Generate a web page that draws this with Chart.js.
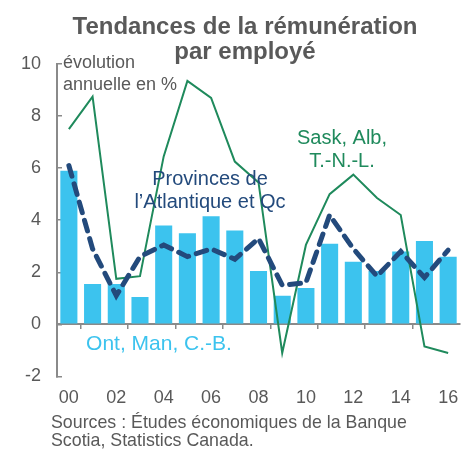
<!DOCTYPE html>
<html>
<head>
<meta charset="utf-8">
<script src="https://cdn.jsdelivr.net/npm/chart.js@4"></script>
<style>
  html, body { margin: 0; padding: 0; background: #fff; }
  #wrap { width: 462px; height: 450px; position: relative; }
</style>
</head>
<body>
<div id="wrap"><canvas id="canvas" width="462" height="450"></canvas></div>
<script>
// années 2000 à 2016
let years = ['00', '01', '02', '03', '04', '05', '06', '07', '08', '09', '10', '11', '12', '13', '14', '15', '16']
let ontManCB = [5.9, 1.55, 1.55, 1.05, 3.8, 3.5, 4.15, 3.6, 2.05, 1.1, 1.4, 3.1, 2.4, 2.05, 2.8, 3.2, 2.6]
let atlantiqueQc = [6.1, 2.9, 1.1, 2.6, 3.05, 2.6, 2.9, 2.5, 3.3, 1.5, 1.6, 4.2, 2.9, 1.85, 2.8, 1.8, 2.85]
let saskAlbTNL = [7.5, 8.75, 1.75, 1.85, 6.45, 9.35, 8.7, 6.25, 5.45, -1.1, 3.05, 5.0, 5.75, 4.85, 4.2, -0.85, -1.1]
let yTicks = [-2, 0, 2, 4, 6, 8, 10]

const grey = '#595959'
const axisGrey = '#8a8a8a'
const lightBlue = '#3cc3ee'
const darkBlue = '#234a7c'
const green = '#1f8a5c'
const fontFamily = '"Liberation Sans", Arial, sans-serif'

const textsPlugin = {
    id: 'texts',
    afterDraw(chart) {
        const { ctx, scales: { x, y } } = chart
        ctx.save()
        ctx.textBaseline = 'middle'

        // titre
        ctx.fillStyle = grey
        ctx.textAlign = 'center'
        ctx.font = 'bold 24px ' + fontFamily
        ctx.fillText('Tendances de la rémunération', 245, 27)
        ctx.fillText('par employé', 245, 52)

        // unité
        ctx.textAlign = 'left'
        ctx.font = '18px ' + fontFamily
        ctx.fillText('évolution', x.left + 6, 63)
        ctx.fillText('annuelle en %', x.left + 6, 85)

        // étiquettes des séries
        ctx.textAlign = 'center'
        ctx.font = '20px ' + fontFamily
        ctx.fillStyle = darkBlue
        ctx.fillText('Provinces de', 210, 179)
        ctx.fillText('l\u2019Atlantique et Qc', 210, 202)
        ctx.fillStyle = green
        ctx.fillText('Sask, Alb,', 342, 138)
        ctx.fillText('T.-N.-L.', 342, 161)
        ctx.fillStyle = lightBlue
        ctx.font = '21px ' + fontFamily
        ctx.fillText('Ont, Man, C.-B.', 159, 344)

        // sources
        ctx.fillStyle = grey
        ctx.textAlign = 'left'
        ctx.font = '17.8px ' + fontFamily
        ctx.fillText('Sources : Études économiques de la Banque', 51, 423)
        ctx.fillText('Scotia, Statistics Canada.', 51, 441)
        ctx.restore()
    }
}

const config = {
    type: 'bar',
    plugins: [textsPlugin],
    data: {
        labels: years,
        datasets: [
            {
                type: 'line',
                label: 'Provinces de l\u2019Atlantique et Qc',
                data: atlantiqueQc,
                borderColor: darkBlue,
                borderWidth: 5,
                borderDash: [11, 8],
                borderCapStyle: 'round',
                pointRadius: 0,
                tension: 0,
                order: 1
            },
            {
                type: 'line',
                label: 'Sask, Alb, T.-N.-L.',
                data: saskAlbTNL,
                borderColor: green,
                borderWidth: 2,
                pointRadius: 0,
                tension: 0,
                order: 2
            },
            {
                type: 'bar',
                label: 'Ont, Man, C.-B.',
                data: ontManCB,
                backgroundColor: lightBlue,
                categoryPercentage: 1,
                barPercentage: 0.72,
                order: 3
            }
        ]
    },
    options: {
        responsive: false,
        animation: false,
        layout: { padding: { left: 0, right: 2, top: 64, bottom: 41 } },
        plugins: {
            legend: { display: false },
            tooltip: { enabled: false },
            title: { display: false }
        },
        scales: {
            x: {
                offset: true,
                grid: { display: false, drawTicks: true, tickLength: 11 },
                border: { display: false },
                ticks: {
                    autoSkip: false,
                    maxRotation: 0,
                    padding: 0,
                    color: grey,
                    font: { size: 18, family: fontFamily },
                    callback: function (val, i) { return i % 2 == 0 ? years[i] : '' }
                }
            },
            // axe du zéro, traits vers le bas
            x2: {
                type: 'category',
                labels: years,
                position: { y: 0 },
                offset: true,
                grid: {
                    display: true, drawOnChartArea: false, offset: true, tickLength: 4, lineWidth: 1.5,
                    color: c => (c.index % 2 == 1 ? axisGrey : 'rgba(0,0,0,0)')
                },
                border: { display: true, color: axisGrey, width: 2 },
                ticks: { display: false }
            },
            // traits vers le haut au centre des catégories
            x3: {
                type: 'category',
                labels: years,
                position: { y: 0 },
                offset: true,
                grid: { display: true, drawOnChartArea: false, offset: false, tickLength: -5, lineWidth: 1.5, color: axisGrey },
                border: { display: false },
                ticks: { display: false }
            },
            y: {
                min: -2,
                max: 10,
                afterBuildTicks: function (axis) { axis.ticks = yTicks.map(v => ({ value: v })) },
                grid: { display: true, drawOnChartArea: false, tickLength: -5, color: axisGrey, lineWidth: 1.5 },
                border: { display: true, color: axisGrey, width: 2 },
                ticks: {
                    padding: 21,
                    color: grey,
                    font: { size: 18, family: fontFamily }
                }
            }
        }
    }
}

const canvas = document.getElementById('canvas')
const myChart = new Chart(canvas, config)
</script>
</body>
</html>
